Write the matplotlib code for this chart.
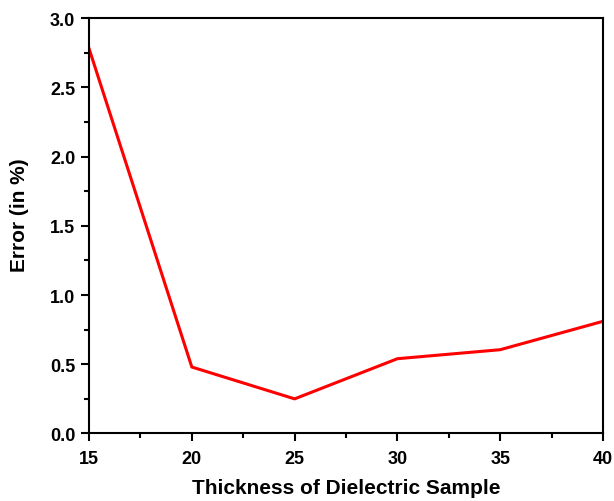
import numpy as np
import matplotlib
matplotlib.use("Agg")
import matplotlib.pyplot as plt
from matplotlib.ticker import MultipleLocator, AutoMinorLocator

thickness = [15, 20, 25, 30, 35, 40]
error_pct = [2.78, 0.48, 0.25, 0.54, 0.605, 0.81]

plt.rcParams["font.family"] = ["Liberation Sans", "DejaVu Sans"]
plt.rcParams["font.weight"] = "bold"

fig = plt.figure(figsize=(6.14, 5.02), dpi=100)
ax = fig.add_axes([0.145, 0.1345, 0.837, 0.8275])

ax.plot(thickness, error_pct, color="#ff0000", linewidth=2.2)

ax.set_xlim(15, 40)
ax.set_ylim(0, 3.0)
ax.xaxis.set_major_locator(MultipleLocator(5))
ax.xaxis.set_minor_locator(AutoMinorLocator(2))
ax.yaxis.set_minor_locator(AutoMinorLocator(2))
yt = np.arange(0, 3.01, 0.5)
ax.set_yticks(yt)
ax.set_yticklabels([f"{v:.1f}" for v in yt])

ax.tick_params(which="major", direction="out", length=6, width=1.5, labelsize=13, pad=4)
ax.tick_params(axis="x", which="major", pad=6)
ax.tick_params(which="minor", direction="out", length=3.5, width=1.5)
for lbl in ax.get_xticklabels() + ax.get_yticklabels():
    lbl.set_fontweight("bold")
for s in ax.spines.values():
    s.set_linewidth(1.5)

ax.set_xlabel("Thickness of Dielectric Sample", fontsize=15, fontweight="bold", labelpad=8)
ax.set_ylabel("Error (in %)", fontsize=15, fontweight="bold")
ax.yaxis.set_label_coords(-0.117, 0.528)

fig.savefig("out.png", dpi=100)
